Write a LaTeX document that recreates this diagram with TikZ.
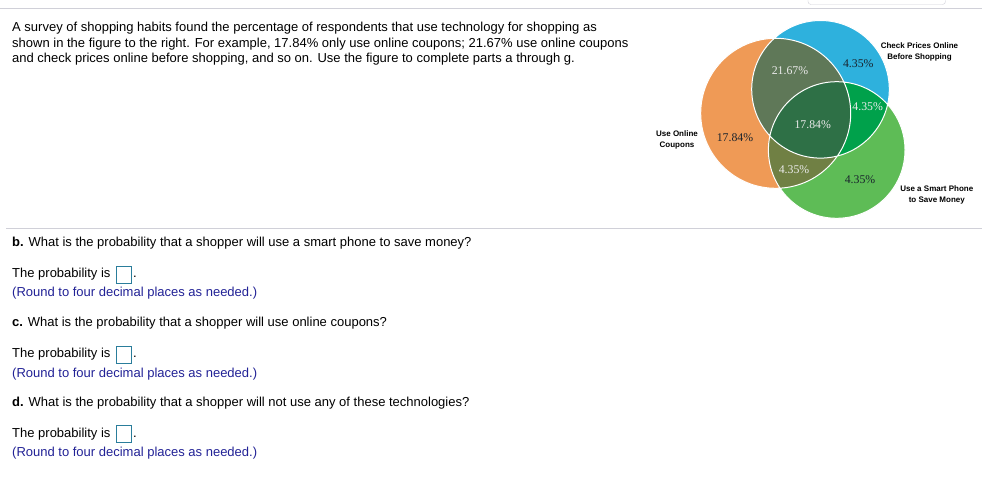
\documentclass[tikz,border=0pt]{standalone}
\usepackage{fontspec}
\setmainfont{Liberation Sans}
\newfontfamily\tnr{Liberation Serif}
\definecolor{cOrange}{RGB}{239,154,86}
\definecolor{cBlue}{RGB}{46,177,221}
\definecolor{cGreen}{RGB}{94,188,86}
\definecolor{cOB}{RGB}{95,120,88}
\definecolor{cBG}{RGB}{0,161,75}
\definecolor{cOG}{RGB}{112,128,68}
\definecolor{cOBG}{RGB}{46,112,70}
\definecolor{cRule}{RGB}{208,208,216}
\definecolor{cHint}{RGB}{34,34,150}
\definecolor{cBox}{RGB}{42,125,155}
\definecolor{cDark}{RGB}{25,35,45}
\begin{document}
\begin{tikzpicture}[x=1pt,y=-1pt,
  body/.style={anchor=base west,inner sep=0pt,font=\fontsize{13}{15.5}\selectfont},
  hint/.style={body,text=cHint},
  setlabel/.style={inner sep=0pt,align=center,font=\fontsize{8}{10.8}\selectfont\bfseries},
  pct/.style={inner sep=0pt,font=\tnr\fontsize{11.8}{13}\selectfont},
  ansbox/.style={draw=cBox,line width=1pt,minimum width=15pt,minimum height=17pt,inner sep=0pt,anchor=north west}]
\useasboundingbox (0,0) rectangle (982,481);
\fill[white] (0,0) rectangle (982,481);
% top tab and rules
\draw[cRule,rounded corners=3pt] (808,-5) rectangle (945.5,4.5);
\draw[cRule,line width=1pt] (0,9) -- (982,9);
\draw[cRule,line width=1pt] (6,228.3) -- (982,228.3);
% Venn centres
\coordinate (cO) at (775.7,113.3);
\coordinate (cB) at (820.5,89.3);
\coordinate (cG) at (836.7,150);
\fill[cOrange] (cO) circle[radius=75];
\fill[cBlue] (cB) circle[radius=68.8];
\fill[cGreen] (cG) circle[radius=68.3];
\begin{scope}
  \clip (cO) circle[radius=75];
  \fill[cOB] (cB) circle[radius=68.8];
  \fill[cOG] (cG) circle[radius=68.3];
\end{scope}
\begin{scope}
  \clip (cB) circle[radius=68.8];
  \fill[cBG] (cG) circle[radius=68.3];
\end{scope}
\begin{scope}
  \clip (cO) circle[radius=75];
  \clip (cB) circle[radius=68.8];
  \fill[cOBG] (cG) circle[radius=68.3];
\end{scope}
\draw[white,line width=1pt] (cO) circle[radius=75] (cB) circle[radius=68.8] (cG) circle[radius=68.3];
% percentages
\node[pct,text=cDark] (pB) at (858.3,64) {4.35\%};
\node[pct,text=white!92!black] (pOB) at (790,71) {21.67\%};
\node[pct,text=white!92!black] (pBG) at (867.7,106.7) {4.35\%};
\node[pct,text=white!92!black] (pOBG) at (812.7,124.3) {17.84\%};
\node[pct,text=cDark] (pO) at (735,137.7) {17.84\%};
\node[pct,text=white!92!black] (pOG) at (794,170) {4.35\%};
\node[pct,text=cDark] (pG) at (860,180) {4.35\%};
% set labels
\node[setlabel] (lB) at (919.5,51.7) {Check Prices Online\\Before Shopping};
\node[setlabel] (lO) at (677,140.3) {Use Online\\Coupons};
\node[setlabel] (lG) at (936.8,195) {Use a Smart Phone\\to Save Money};
% intro text
\node[body] (t1) at (12,31.7) {A survey of shopping habits found the percentage of respondents that use technology for shopping as};
\node[body] (t2) at (12,47.3) {shown in the figure to the right. For example, 17.84\% only use online coupons; 21.67\% use online coupons};
\node[body] (t3) at (12,62.9) {and check prices online before shopping, and so on. Use the figure to complete parts a through g.};
% questions
\node[body] (qb) at (12,246.7) {\textbf{b.} What is the probability that a shopper will use a smart phone to save money?};
\node[body] (pb) at (12,277.7) {The probability is};
\node[ansbox] (bb) at (115.5,265.5) {};
\node[body] (db) at (133,277.7) {.};
\node[hint] (hb) at (12,296.7) {(Round to four decimal places as needed.)};
\node[body] (qc) at (12,326) {\textbf{c.} What is the probability that a shopper will use online coupons?};
\node[body] (pc) at (12,357.7) {The probability is};
\node[ansbox] (bc) at (115.5,345.5) {};
\node[body] (dc) at (133,357.7) {.};
\node[hint] (hc) at (12,377.4) {(Round to four decimal places as needed.)};
\node[body] (qd) at (12,406) {\textbf{d.} What is the probability that a shopper will not use any of these technologies?};
\node[body] (pd) at (12,437.4) {The probability is};
\node[ansbox] (bd) at (115.5,425.2) {};
\node[body] (dd) at (133,437.4) {.};
\node[hint] (hd) at (12,456.7) {(Round to four decimal places as needed.)};
\end{tikzpicture}
\end{document}
